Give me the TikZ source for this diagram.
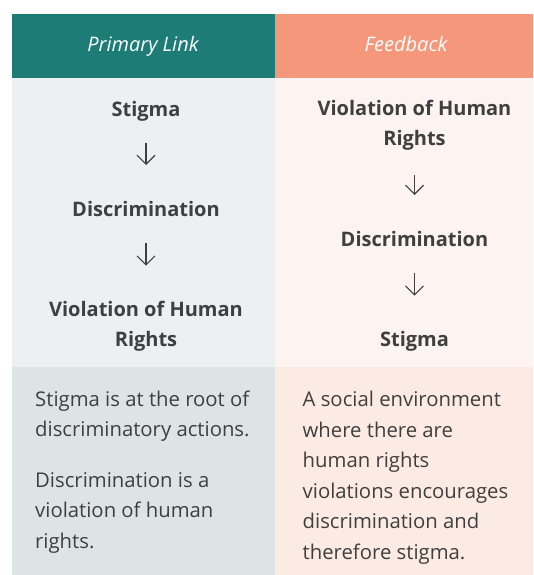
\documentclass[tikz,border=0pt]{standalone}
\usepackage{fontspec}
\setmainfont{Open Sans}
\usepackage{tikz}
\usetikzlibrary{arrows.meta}
\usetikzlibrary{positioning}
\definecolor{mteal}{HTML}{1D7C75}
\definecolor{morange}{HTML}{F5977A}
\definecolor{mgrey}{HTML}{ECF0F1}
\definecolor{mpink}{HTML}{FDF4F1}
\definecolor{mgreydark}{HTML}{DDE5E4}
\definecolor{mpinkdark}{HTML}{FCEBE3}
\definecolor{mtext}{HTML}{3F3F3F}
\tikzset{head/.style = {text = white, inner sep = 0, anchor = base, font = \fontsize{20}{24}\selectfont\itshape}}
\tikzset{item/.style = {text = mtext, inner sep = 0, anchor = base, align = center, font = \fontsize{20}{30}\selectfont\bfseries}}
\tikzset{note/.style = {text = mtext, inner sep = 0, anchor = base west, align = left, font = \fontsize{20.3}{30.5}\selectfont}}
\tikzset{flow/.style = {draw = mtext, line width = 1.1pt, -{Straight Barb[length = 9pt, width = 18pt]}}}

\begin{document}
\begin{tikzpicture}[x = 1pt, y = -1pt]

       \useasboundingbox (0, 0) rectangle (533, 575);
       \fill [mteal] (12, 14) rectangle (275, 78);
       \fill [morange] (275, 14) rectangle (533, 78);
       \fill [mgrey] (12, 78) rectangle (275, 367);
       \fill [mpink] (275, 78) rectangle (533, 367);
       \fill [mgreydark] (12, 367) rectangle (275, 575);
       \fill [mpinkdark] (275, 367) rectangle (533, 575);

       \node [head] (h1) at (143, 52) {Primary Link};
       \node [head] (h2) at (406, 52) {Feedback};

       \node [item] (s1) at (146, 116.7) {Stigma};
       \node [item] (d1) at (146, 216) {Discrimination};
       \node [item] (v1) at (146, 346.7) {Violation of Human\\Rights};
       \draw [flow, shorten <= 26.5pt, shorten >= 51pt] (s1.base) -- (d1.base);
       \draw [flow, shorten <= 26.5pt, shorten >= 81pt] (d1.base) -- (v1.base);

       \node [item] (v2) at (414.5, 146) {Violation of Human\\Rights};
       \node [item] (d2) at (414.5, 246) {Discrimination};
       \node [item] (s2) at (414.5, 346.7) {Stigma};
       \draw [flow, shorten <= 29pt, shorten >= 51pt] (v2.base) -- (d2.base);
       \draw [flow, shorten <= 26.5pt, shorten >= 51pt] (d2.base) -- (s2.base);

       \node [note] (n1) at (35, 436.5) {Stigma is at the root of\\discriminatory actions.};
       \node [note] (n2) at (35, 548) {Discrimination is a\\violation of human\\rights.};
       \node [note] (n3) at (302.5, 559) {A social environment\\where there are\\human rights\\violations encourages\\discrimination and\\therefore stigma.};
    \end{tikzpicture}
\end{document}
